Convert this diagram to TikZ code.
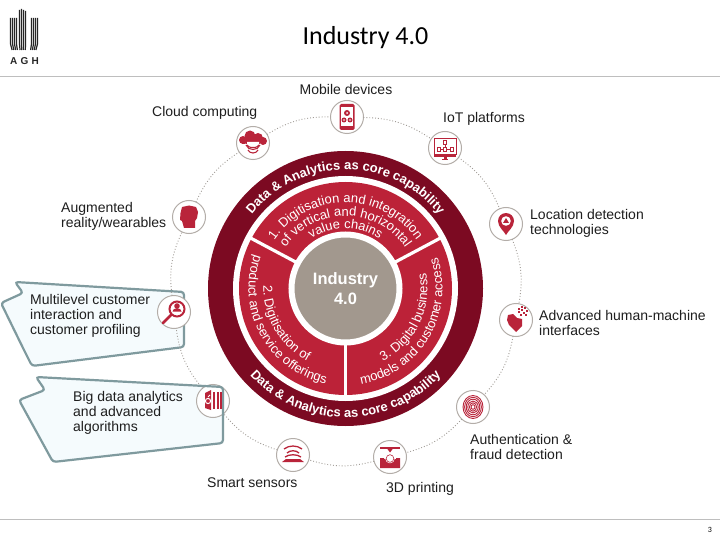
\documentclass[tikz,border=0pt]{standalone}
\usepackage{fontspec}
\setmainfont{Liberation Sans}
\newfontfamily\titlefont{Carlito}
\usetikzlibrary{decorations.text}
\definecolor{ringdark}{HTML}{7C0A22}
\definecolor{secred}{HTML}{BC2238}
\definecolor{hubgrey}{HTML}{A2988E}
\definecolor{iconred}{HTML}{B9243A}
\definecolor{iconedge}{HTML}{B3ADA8}
\definecolor{calledge}{HTML}{7F9A9E}
\definecolor{callfill}{HTML}{F5FBFD}
\definecolor{labeltxt}{HTML}{1E1E1E}
\definecolor{rulegrey}{HTML}{BEBEBE}
\tikzset{
  x=1pt,y=1pt,
  iconbox/.style={circle,draw=iconedge,fill=white,line width=1pt,minimum size=33pt,inner sep=0pt,outer sep=0pt},
  label/.style={text=labeltxt,font=\fontsize{14}{15}\selectfont,align=left,anchor=west,inner sep=0pt},
  callout/.style={rounded corners=3pt,line width=2.2pt,draw=calledge},
  ringdots/.style={draw=iconedge!90!black,line width=0.9pt,dotted,bend left=16},
  wheeltext/.style={decorate,decoration={text along path,text color=white,text align=center,
     text={|\fontsize{13}{13}\selectfont\bfseries|#1}}},
  sectext/.style={decorate,decoration={text along path,text color=white,text align=center,
     text={|\fontsize{13}{13}\selectfont|#1}}},
  ink/.style={fill=iconred,draw=none},
  inkline/.style={draw=iconred,line width=0.9pt,fill=none}
}
\begin{document}
\begin{tikzpicture}
\useasboundingbox (0,0) rectangle (720,-540);
\fill[white] (0,0) rectangle (720,-540);
% frame
\coordinate (hl) at (0,-77); \coordinate (hr) at (720,-77);
\coordinate (fl) at (0,-519); \coordinate (fr) at (720,-519);
\draw[rulegrey,line width=1pt] (hl) -- (hr);
\draw[rulegrey,line width=1pt] (fl) -- (fr);
\node[font=\titlefont\fontsize{26}{26}\selectfont,text=black,inner sep=0pt] (title) at (365.5,-38) {Industry 4.0};
\node[font=\titlefont\fontsize{8}{8}\selectfont,text=black,inner sep=0pt] (pageno) at (710,-530) {3};
% logo
\foreach \xx/\yy in {10.5/18,12.5/18,14.5/18,16.5/18,19.5/10,21.5/9,23.5/10,25.5/11,31.5/18,33.5/18,35.5/18,37.5/18}{
  \draw[black!85,line width=1.2pt] (\xx,-\yy) -- (\xx,-44) -- ({\xx+(24-\xx)*0.12},-50);
}
\node[font=\bfseries\fontsize{10}{10}\selectfont,text=black!85,inner sep=0pt] (agh) at (24.5,-61) {A\,\,G\,\,H};
% callout bodies
\fill[callfill,callout,draw=none] (15,-282) -- (184,-292) -- (184,-347) -- (32,-366) -- (23,-348) -- (1,-303) -- (23,-293) -- cycle;
\draw[callout] (15,-282) -- (184,-292) -- (184,-347) -- (32,-366) -- (23,-348) -- (1,-303) -- (23,-293) -- cycle;
\fill[callfill,callout,draw=none] (36,-377) -- (223,-387) -- (223,-443) -- (53,-462) -- (19,-400) -- (45,-390) -- cycle;
% icons
\node[iconbox] (mobile) at (347,-117) {};
\node[iconbox] (iot) at (445,-148) {};
\node[iconbox] (location) at (506,-224) {};
\node[iconbox] (advanced) at (516,-320) {};
\node[iconbox] (auth) at (473,-407) {};
\node[iconbox] (printing) at (390,-457) {};
\node[iconbox] (smart) at (293,-455) {};
\node[iconbox] (bigdata) at (213,-401) {};
\node[iconbox] (multi) at (174,-312) {};
\node[iconbox] (ar) at (189,-217) {};
\node[iconbox] (cloud) at (253,-143) {};
% dotted ring
\draw[ringdots] (mobile) to (iot);
\draw[ringdots] (iot) to (location);
\draw[ringdots] (location) to (advanced);
\draw[ringdots] (advanced) to (auth);
\draw[ringdots] (auth) to (printing);
\draw[ringdots] (printing) to (smart);
\draw[ringdots] (smart) to (bigdata);
\draw[ringdots] (bigdata) to (multi);
\draw[ringdots] (multi) to (ar);
\draw[ringdots] (ar) to (cloud);
\draw[ringdots] (cloud) to (mobile);
% callout 2 stroke passes over its icon
\draw[callout] (36,-377) -- (223,-387) -- (223,-443) -- (53,-462) -- (19,-400) -- (45,-390) -- cycle;
% wheel
\begin{scope}[shift={(345.5,-288.5)}]
  \coordinate (wheel) at (0,0);
  \fill[ringdark] (wheel) circle (137.5);
  \fill[white] (wheel) circle (112.5);
  \fill[secred] (wheel) circle (106.5);
  \coordinate (d1) at (152:112); \coordinate (d2) at (28:112); \coordinate (d3) at (270:112);
  \draw[white,line width=3.2pt] (wheel) -- (d1);
  \draw[white,line width=3.2pt] (wheel) -- (d2);
  \draw[white,line width=3.2pt] (wheel) -- (d3);
  \node[circle,fill=hubgrey,draw=white,line width=6pt,minimum size=108pt,inner sep=0pt,outer sep=0pt,
        text=white,align=center,font=\bfseries\fontsize{16.5}{20}\selectfont] (hub) at (wheel) {Industry\\4.0};
  % outer ring texts
  \path[wheeltext={Data {\&} Analytics as core capability}] (146:119) arc[start angle=146,end angle=34,radius=119];
  \path[wheeltext={Data {\&} Analytics as core capability}] (216:129) arc[start angle=216,end angle=324,radius=129];
  % sector 1
  \path[sectext={1. Digitisation and integration}] (150:86) arc[start angle=150,end angle=30,radius=86];
  \path[sectext={of vertical and horizontal}] (150:72.5) arc[start angle=150,end angle=30,radius=72.5];
  \path[sectext={value chains}] (130:60) arc[start angle=130,end angle=50,radius=60];
  % sector 2
  \path[sectext={product and service offerings}] (150:97) arc[start angle=150,end angle=268,radius=97];
  \path[sectext={2. Digitisation of}] (160:82) arc[start angle=160,end angle=260,radius=82];
  % sector 3
  \path[sectext={models and customer access}] (272:97) arc[start angle=272,end angle=386,radius=97];
  \path[sectext={3. Digital business}] (280:82) arc[start angle=280,end angle=388,radius=82];
\end{scope}
% labels
\node[label,anchor=center] (tmobile) at (346,-89) {Mobile devices};
\node[label] (tcloud) at (152,-113) {Cloud computing};
\node[label] (tiot) at (443,-119) {IoT platforms};
\node[label] (tloc) at (530,-223.5) {Location detection\\technologies};
\node[label] (tadv) at (539,-322.5) {Advanced human-machine\\interfaces};
\node[label] (tauth) at (470,-446.5) {Authentication \&\\fraud detection};
\node[label] (tprint) at (386,-489) {3D printing};
\node[label] (tsmart) at (207,-483) {Smart sensors};
\node[label] (tar) at (61,-216) {Augmented\\reality/wearables};
\node[label] (tmulti) at (30,-316) {Multilevel customer\\interaction and\\customer profiling};
\node[label] (tbig) at (73,-413) {Big data analytics\\and advanced\\algorithms};
% icon glyphs
\begin{scope}[shift={(mobile.center)}]
  \fill[ink,rounded corners=1.5pt] (-7.5,-13) rectangle (7.5,13);
  \fill[white] (-6,-9) rectangle (6,10);
  \fill[iconred] (0,4) circle (3); \fill[iconred] (-3,-3) circle (2.5); \fill[iconred] (3,-3) circle (2.5);
  \fill[white] (0,4) circle (1); \fill[white] (-3,-3) circle (.8); \fill[white] (3,-3) circle (.8);
\end{scope}
\begin{scope}[shift={(cloud.center)}]
  \fill[ink] (-10,3) circle (4); \fill[ink] (-3,7) circle (5.5); \fill[ink] (5,5) circle (5); \fill[ink] (10,2) circle (4);
  \fill[ink] (-11,-1) rectangle (11,4);
  \draw[draw=white,line width=1pt] (-8,-1) arc[start angle=200,end angle=340,x radius=8.5,y radius=3];
  \fill[white] (-6,-1) .. controls (-3,-3) and (3,-3) .. (6,-1) -- (6,1) -- (-6,1) -- cycle;
  \draw[inkline,line width=1.1pt] (-6,-2) arc[start angle=180,end angle=360,x radius=6,y radius=2.5];
  \draw[inkline,line width=1.1pt] (-7,-2) .. controls (-5,-8) and (5,-8) .. (7,-2);
  \draw[inkline,line width=1.1pt] (-5,-7) .. controls (-3,-11) and (3,-11) .. (5,-7);
\end{scope}
\begin{scope}[shift={(ar.center)}]
  \fill[ink] (-5,-11) -- (-7,-4) -- (-9,-3) -- (-8.5,4) -- (-7,10) -- (0,11.5) -- (7,10) -- (9,5) -- (8,-1) -- (6,-4) -- (6,-11) -- cycle;
\end{scope}
\begin{scope}[shift={(iot.center)}]
  \draw[inkline] (-11,-6) rectangle (11,10);
  \fill[ink] (-11,-9) rectangle (11,-6);
  \fill[ink] (-3,-12.5) rectangle (3,-11);
  \fill[ink] (-1.5,-11) rectangle (1.5,-9);
  \draw[inkline,line width=.6pt] (-1.5,4) rectangle (1.5,8);
  \draw[inkline,line width=.6pt] (-8,-3) rectangle (-5,1);
  \draw[inkline,line width=.6pt] (-1.5,-3) rectangle (1.5,1);
  \draw[inkline,line width=.6pt] (5,-3) rectangle (8,1);
  \draw[inkline,line width=.6pt] (0,4) -- (0,1) (-5,-1) -- (-1.5,-1) (1.5,-1) -- (5,-1);
\end{scope}
\begin{scope}[shift={(location.center)}]
  \fill[ink] (-8,3) arc[start angle=180,end angle=0,radius=8] .. controls (8,-3) and (2,-7) .. (0,-11) .. controls (-2,-7) and (-8,-3) .. (-8,3) -- cycle;
  \fill[white] (0,3) circle (4.8);
  \fill[iconred] (-3,1) -- (0,6) -- (3,1) -- cycle;
\end{scope}
\begin{scope}[shift={(advanced.center)}]
  \fill[ink] (-8,5) -- (-3,6) -- (1,2) -- (6,1) -- (6,-6) -- (3,-9) -- (0,-12) -- (-3,-9) -- (-7,-5) -- (-9,0) -- cycle;
  \foreach \xx/\yy in {2/7,5/9,8/11,4/4,7/6,10/8,5/12,9/4,2/10}{\fill[iconred] (\xx,\yy) rectangle ++(2,2);}
\end{scope}
\begin{scope}[shift={(auth.center)}]
  \foreach \rr in {2,3.6,5.2,6.8,8.4,10}{\draw[inkline,line width=.9pt] (0,0) ellipse ({\rr} and {\rr*1.15});}
\end{scope}
\begin{scope}[shift={(printing.center)}]
  \fill[ink] (-10,10) rectangle (10,8.5);
  \fill[ink] (-3,8.5) -- (3,8.5) -- (0,4.5) -- cycle;
  \fill[ink] (-10,-11) -- (10,-11) -- (10,-1) -- (6,-1) -- (6,-3) -- (-6,-3) -- (-6,-1) -- (-10,-1) -- cycle;
  \fill[ink] (-6,-6) rectangle (6,-2);
  \fill[white] (0,-1.5) circle (4.8);
  \draw[inkline,line width=.6pt] (0,-1.5) circle (3.8);
\end{scope}
\begin{scope}[shift={(smart.center)}]
  \draw[inkline,line width=1.3pt] (-9,6) .. controls (-4,10) and (4,10) .. (9,6);
  \draw[inkline,line width=1.3pt] (-6,2) .. controls (-3,5) and (3,5) .. (6,2);
  \draw[inkline,line width=1.3pt] (-8,-2) .. controls (-4,1) and (4,1) .. (8,-2);
  \fill[ink] (-11,-7) -- (11,-7) -- (7,-4) -- (-7,-4) -- cycle;
\end{scope}
\begin{scope}[shift={(bigdata.center)}]
  \fill[ink] (-8,-7) -- (-2,-9) -- (-2,11) -- (-8,8) -- cycle;
  \foreach \xx in {0,3.5,7}{\fill[iconred] (\xx,-8) rectangle ++(2.4,17);}
  \draw[draw=white,line width=1pt] (-5,0) circle (2.6);
  \draw[draw=white,line width=1pt] (-5,4) -- (-3,6);
\end{scope}
\begin{scope}[shift={(multi.center)}]
  \draw[inkline,line width=2pt] (3,3) circle (7.5);
  \draw[inkline,line width=2.8pt,line cap=round] (-3,-3) -- (-11,-11);
  \fill[iconred] (3,6) circle (2.8);
  \fill[iconred] (-1.5,0.5) arc[start angle=180,end angle=0,x radius=4.5,y radius=3.3] -- cycle;
\end{scope}
\end{tikzpicture}
\end{document}
